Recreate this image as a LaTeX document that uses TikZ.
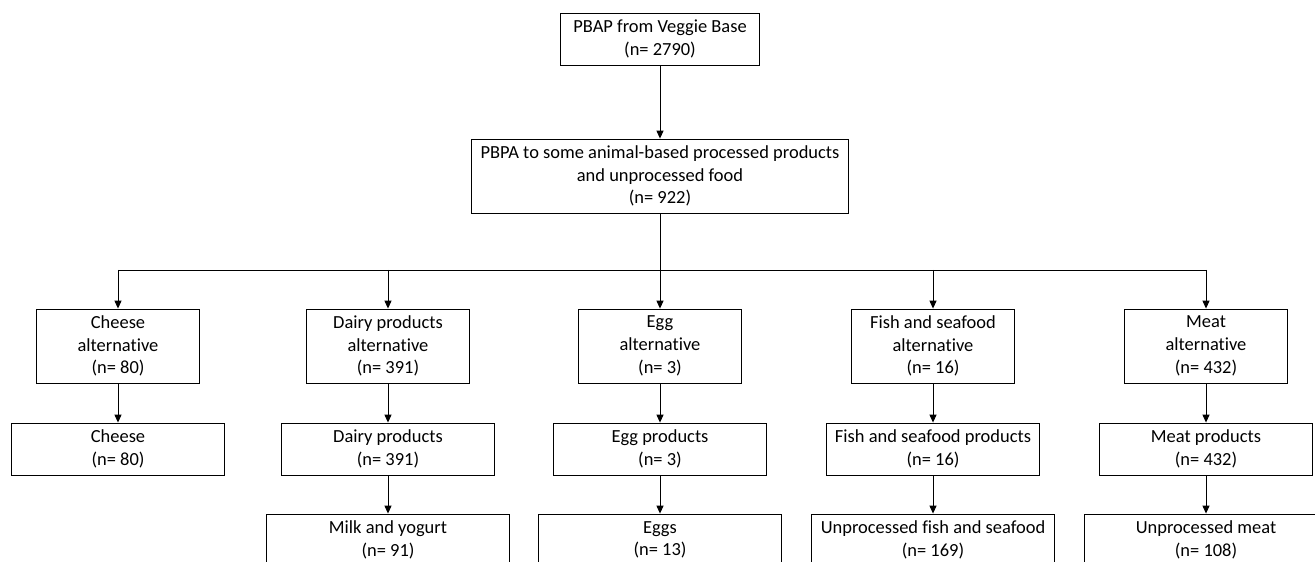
\documentclass[tikz,border=0pt]{standalone}
\usepackage{fontspec}
\setmainfont{Carlito}[Ligatures=NoCommon]
\usetikzlibrary{arrows.meta,positioning,calc}

\begin{document}
\begin{tikzpicture}[>={Triangle[length=4.5pt,width=4pt]},line width=0.5pt,
 every node/.style={font=\fontsize{10.5}{12.9}\selectfont,align=center,inner sep=0pt},
 box/.style={draw,minimum height=1.04cm},
 alt/.style={draw,minimum width=3.26cm,minimum height=1.48cm},
 prod/.style={draw,minimum width=4.26cm,minimum height=1.04cm},
 raw/.style={draw,minimum width=4.86cm,minimum height=1.04cm}]
\clip (0,0) rectangle (26.3,-11.24);
% top of the chart
\node[box,minimum width=3.98cm](base)at(13.2,-0.78){PBAP from Veggie Base\\(n= 2790)};
\node[draw,minimum width=7.54cm,minimum height=1.48cm](pbpa)at(13.2,-3.52)
 {PBPA to some animal-based processed products\\and unprocessed food\\(n= 922)};
\draw[->](base)--(pbpa);
% alternatives
\node[alt](ca)at(2.36,-6.92){Cheese\\alternative\\(n= 80)};
\node[alt](da)at(7.76,-6.92){Dairy products\\alternative\\(n= 391)};
\node[alt](ea)at(13.2,-6.92){Egg\\alternative\\(n= 3)};
\node[alt](fa)at(18.66,-6.92){Fish and seafood\\alternative\\(n= 16)};
\node[alt](ma)at(24.12,-6.92){Meat\\alternative\\(n= 432)};
\coordinate(bar)at(13.2,-5.4);
\draw(pbpa)--(bar);\draw(bar-|ca)--(bar-|ma);
\draw[->](bar-|ca)--(ca);\draw[->](bar-|da)--(da);\draw[->](bar)--(ea);
\draw[->](bar-|fa)--(fa);\draw[->](bar-|ma)--(ma);
% products
\node[prod](cp)at(2.36,-8.98){Cheese\\(n= 80)};
\node[prod](dp)at(7.76,-8.98){Dairy products\\(n= 391)};
\node[prod](ep)at(13.2,-8.98){Egg products\\(n= 3)};
\node[prod](fp)at(18.66,-8.98){Fish and seafood products\\(n= 16)};
\node[prod](mp)at(24.12,-8.98){Meat products\\(n= 432)};
\draw[->](ca)--(cp);\draw[->](da)--(dp);\draw[->](ea)--(ep);
\draw[->](fa)--(fp);\draw[->](ma)--(mp);
% unprocessed food
\node[raw](du)at(7.76,-10.8){Milk and yogurt\\(n= 91)};
\node[raw](eu)at(13.2,-10.8){Eggs\\(n= 13)};
\node[raw](fu)at(18.66,-10.8){Unprocessed fish and seafood\\(n= 169)};
\node[raw](mu)at(24.12,-10.8){Unprocessed meat\\(n= 108)};
\draw[->](dp)--(du);\draw[->](ep)--(eu);\draw[->](fp)--(fu);\draw[->](mp)--(mu);
\end{tikzpicture}
\end{document}
